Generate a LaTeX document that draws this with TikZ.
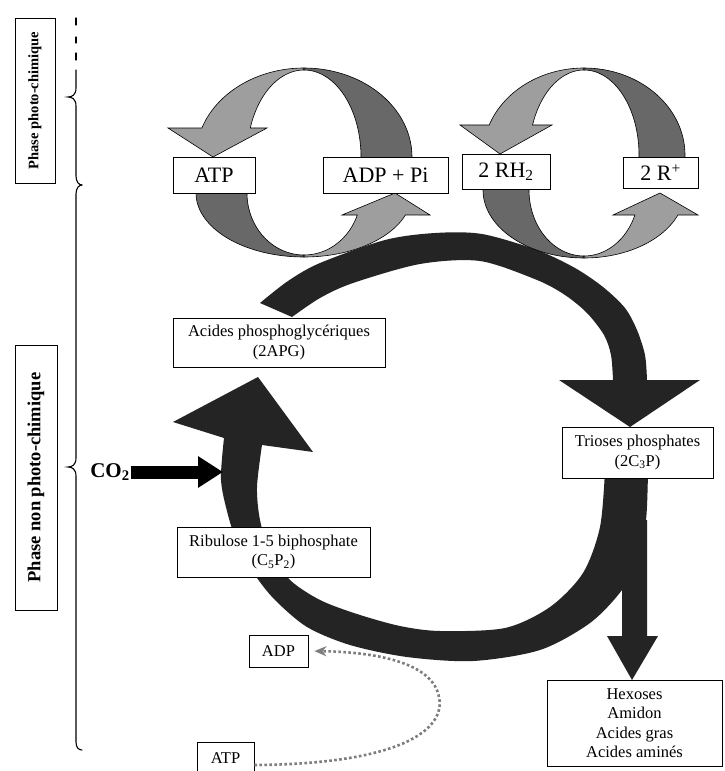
\documentclass[tikz,border=0pt]{standalone}
\usepackage{fontspec}
\setmainfont{Liberation Serif}
\usetikzlibrary{arrows.meta}
\definecolor{lightg}{RGB}{158,158,158}
\definecolor{darkg}{RGB}{104,104,104}
\definecolor{ringc}{RGB}{36,36,36}
\definecolor{dotc}{RGB}{125,125,125}
\tikzset{
  box/.style={draw=black, line width=0.8pt, fill=white, inner sep=0pt, align=center},
  bigtxt/.style={font=\fontsize{22}{26}\selectfont},
  midtxt/.style={font=\fontsize{16.5}{19.5}\selectfont},
  cres/.style={draw=black, line width=0.6pt},
  bracestyle/.style={line width=1.1pt, line cap=round},
}
\begin{document}
\begin{tikzpicture}[x=1pt,y=-1pt]
\fill[white] (0,0) rectangle (725,771);
\useasboundingbox (0,0) rectangle (725,771);

% ---------- main Calvin ring ----------
\fill[ringc] (260,303) -- plot[smooth] coordinates {(260,303) (288,281) (320,263) (385,240) (435,233) (482,234) (537,250) (575,268) (603,287) (625,308) (637,330) (645,355) (647,380)}
  -- (700,380) -- (630,427) -- (559,380) -- (613,380)
  -- plot[smooth] coordinates {(613,380) (611,355) (604,335) (587,313) (565,295) (537,280) (480,261) (420,264) (353,283) (320,298) (292,317)} -- cycle;

\fill[ringc] (648,470) -- plot[smooth] coordinates {(648,470) (646,520) (637,560) (622,590) (590,623) (540,650) (473,661) (407,657) (350,645) (307,627) (275,600) (255,575) (238,545) (228,515) (221,480) (224,438)}
  -- (173,422) -- (258,377) -- (313,452) -- (262,445)
  -- plot[smooth] coordinates {(262,445) (257,487) (260,520) (270,552) (290,580) (320,600) (357,614) (400,626) (440,631) (505,628) (550,607) (583,573) (600,527) (605,470)} -- cycle;

\fill[ringc] (622,520) -- (647,520) -- (647,636) -- (658,636) -- (632,680) -- (607,636) -- (622,636) -- cycle;

% ---------- left cycle (ATP / ADP + Pi) ----------
\filldraw[cres, fill=lightg] plot[domain=270:199,samples=40,variable=\t] ({304+108*cos(\t)},{157+89*sin(\t)})
  -- (168,128) -- (213,157) -- (267,128)
  -- plot[domain=199.5:270,samples=40,variable=\t] ({304+57*cos(\t)},{157+87*sin(\t)}) -- cycle;
\filldraw[cres, fill=darkg] plot[domain=270:365,samples=40,variable=\t] ({304+108*cos(\t)},{157+89*sin(\t)})
  -- plot[domain=365:270,samples=40,variable=\t] ({304+57*cos(\t)},{157+87*sin(\t)}) -- cycle;
\filldraw[cres, fill=darkg] plot[domain=185:90,samples=40,variable=\t] ({304+108*cos(\t)},{193+64*sin(\t)})
  -- plot[domain=90:185,samples=40,variable=\t] ({304+57*cos(\t)},{193+62*sin(\t)}) -- cycle;
\filldraw[cres, fill=lightg] plot[domain=90:20.1,samples=40,variable=\t] ({304+108*cos(\t)},{193+64*sin(\t)})
  -- (430,215) -- (395,193) -- (342,215)
  -- plot[domain=20.8:90,samples=40,variable=\t] ({304+57*cos(\t)},{193+62*sin(\t)}) -- cycle;

% ---------- right cycle (2 RH2 / 2 R+) ----------
\filldraw[cres, fill=lightg] plot[domain=270:200.2,samples=40,variable=\t] ({584+101*cos(\t)},{155+87*sin(\t)})
  -- (460,125) -- (500,154) -- (552,125)
  -- plot[domain=200.7:270,samples=40,variable=\t] ({584+55*cos(\t)},{155+85*sin(\t)}) -- cycle;
\filldraw[cres, fill=darkg] plot[domain=270:365,samples=40,variable=\t] ({584+101*cos(\t)},{155+87*sin(\t)})
  -- plot[domain=365:270,samples=40,variable=\t] ({584+55*cos(\t)},{155+85*sin(\t)}) -- cycle;
\filldraw[cres, fill=darkg] plot[domain=185:90,samples=40,variable=\t] ({584+101*cos(\t)},{190+68*sin(\t)})
  -- plot[domain=90:185,samples=40,variable=\t] ({584+55*cos(\t)},{190+66*sin(\t)}) -- cycle;
\filldraw[cres, fill=lightg] plot[domain=90:21.6,samples=40,variable=\t] ({584+101*cos(\t)},{190+68*sin(\t)})
  -- (698,215) -- (660,193) -- (613,215)
  -- plot[domain=22.3:90,samples=40,variable=\t] ({584+55*cos(\t)},{190+66*sin(\t)}) -- cycle;

% ---------- boxes ----------
\node[box, bigtxt, minimum width=82pt, minimum height=36pt] (atp) at (214,175) {ATP};
\node[box, bigtxt, minimum width=125pt, minimum height=36pt] (adppi) at (385.5,175) {ADP + Pi};
\node[box, bigtxt, minimum width=88pt, minimum height=35pt] (rh2) at (506,171.5) {2 RH\textsubscript{2}};
\node[box, bigtxt, minimum width=75pt, minimum height=31pt] (rplus) at (660.5,172.5) {2 R\textsuperscript{+}};

\node[box, midtxt, minimum width=212pt, minimum height=49pt] (apg) at (279,342.5) {Acides phosphoglycériques\\(2APG)};
\node[box, midtxt, minimum width=151pt, minimum height=51pt] (triose) at (637.5,452.5) {Trioses phosphates\\(2C\textsubscript{3}P)};
\node[box, midtxt, minimum width=193pt, minimum height=50pt] (ribu) at (273.5,552) {Ribulose 1-5 biphosphate\\(C\textsubscript{5}P\textsubscript{2})};
\node[box, midtxt, minimum width=175pt, minimum height=86pt] (hexo) at (634.5,723) {Hexoses\\Amidon\\Acides gras\\Acides aminés};
\node[box, midtxt, minimum width=59pt, minimum height=32pt] (adpS) at (278.5,651) {ADP};
\node[box, midtxt, minimum width=57pt, minimum height=32pt] (atpS) at (225.5,758) {ATP};

% ---------- CO2 ----------
\node[inner sep=0pt, font=\bfseries\fontsize{21}{24}\selectfont] (co2) at (110,472) {CO\textsubscript{2}};
\draw[line width=13pt, -{Triangle[length=25pt,width=30pt]}] (co2.east) ++(1,0) -- (223,472);

% ---------- dotted ATP -> ADP ----------
\draw[dotc, line width=2.6pt, dash pattern=on 2.6pt off 2.4pt, -{Stealth[length=12pt,width=10pt]}, shorten >=6pt]
  ([yshift=-7pt]atpS.east) .. controls (400,764) and (446,730) .. (439,697) .. controls (433,664) and (380,652) .. (adpS.east);

% ---------- phase labels and braces ----------
\node[box, rotate=90, minimum width=165pt, minimum height=40pt, font=\bfseries\fontsize{14.5}{17}\selectfont] (ph1) at (35,100.5) {Phase photo-chimique};
\node[box, rotate=90, minimum width=265pt, minimum height=42pt, font=\bfseries\fontsize{18.5}{21}\selectfont] (ph2) at (36,477.5) {Phase non photo-chimique};

\draw[bracestyle] (76,18) -- (76,25) (76,37) -- (76,43) (76,53) -- (76,60);
\draw[bracestyle] (76,70) -- (76,88) .. controls (76,95) and (72,97) .. (68,97) .. controls (72,97) and (76,99) .. (76,106) -- (76,176) .. controls (76,182) and (79,185) .. (82,185);
\draw[bracestyle] (82,185) .. controls (79,185) and (76,188) .. (76,194) -- (76,458) .. controls (76,465) and (72,467) .. (68,467) .. controls (72,467) and (76,469) .. (76,476) -- (76,742) .. controls (76,748) and (79,750) .. (82,750);
\end{tikzpicture}
\end{document}
